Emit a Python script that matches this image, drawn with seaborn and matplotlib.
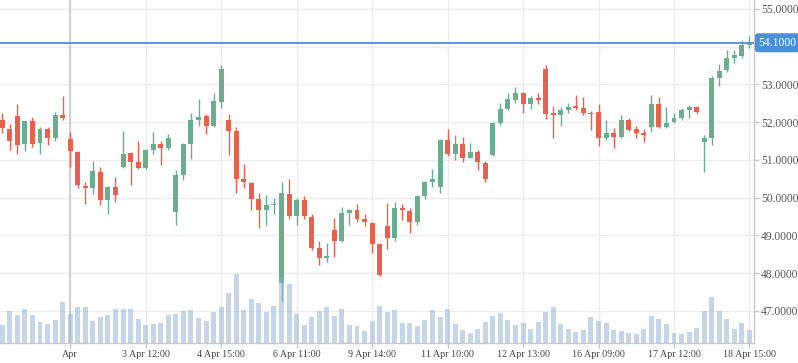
import numpy as np
import pandas as pd
import seaborn as sns
import matplotlib.pyplot as plt

# hourly candles
opens = [52.06, 51.82, 52.16, 51.43, 52.03, 51.45, 51.82, 51.59, 52.19, 51.55,
         51.21, 50.31, 50.26, 50.68, 49.94, 50.28, 50.82, 51.18, 50.94, 50.77,
         51.27, 51.42, 51.30, 49.63, 50.61, 51.43, 52.06, 52.16, 51.90, 52.54,
         52.06, 51.76, 50.49, 50.38, 49.96, 49.68, 49.80, 47.73, 50.09, 49.52,
         49.94, 49.49, 48.66, 48.41, 49.14, 48.85, 49.59, 49.67, 49.43, 49.33,
         48.78, 49.25, 48.94, 49.72, 49.64, 49.36, 50.04, 50.41, 50.29, 51.53,
         51.15, 51.42, 51.06, 51.21, 50.92, 51.14, 51.98, 52.35, 52.59, 52.77,
         52.48, 52.64, 53.41, 52.21, 52.19, 52.32, 52.43, 52.37, 52.24, 52.27,
         51.58, 51.71, 51.60, 52.06, 51.82, 51.71, 51.87, 52.48, 51.87, 52.00,
         52.11, 52.32, 52.40, 51.47, 51.58, 53.17, 53.38, 53.70, 53.75, 54.04]
highs = [52.25, 51.95, 52.48, 52.03, 52.13, 51.87, 51.87, 52.27, 52.69, 51.74,
         51.23, 50.41, 50.98, 50.81, 50.31, 50.55, 51.76, 51.20, 51.50, 51.28,
         51.74, 51.50, 51.68, 50.73, 51.45, 52.24, 52.61, 52.21, 52.77, 53.51,
         52.21, 51.87, 50.89, 50.41, 50.12, 50.07, 49.99, 50.41, 50.49, 49.99,
         50.04, 49.57, 48.85, 48.80, 49.46, 49.75, 49.70, 49.83, 49.57, 49.34,
         48.80, 49.86, 49.88, 49.83, 49.72, 50.06, 50.44, 50.76, 51.55, 51.82,
         51.66, 51.60, 51.45, 51.26, 50.97, 52.00, 52.51, 52.77, 52.93, 52.80,
         52.69, 52.77, 53.51, 52.43, 52.40, 52.51, 52.72, 52.66, 52.29, 52.48,
         52.06, 51.84, 52.19, 52.11, 51.90, 51.82, 52.72, 52.66, 52.40, 52.24,
         52.37, 52.45, 52.43, 51.66, 53.22, 53.54, 53.91, 53.91, 54.17, 54.28]
lows = [51.72, 51.26, 51.15, 51.24, 51.35, 51.16, 51.40, 51.51, 52.06, 50.82,
        50.24, 49.84, 50.10, 49.79, 49.57, 49.87, 50.79, 50.34, 50.75, 50.75,
        51.15, 50.85, 51.25, 49.28, 50.47, 51.03, 51.90, 51.69, 51.88, 52.36,
        51.14, 50.13, 50.24, 49.68, 49.19, 49.28, 49.57, 47.27, 49.42, 49.26,
        49.44, 48.62, 48.22, 48.28, 48.43, 48.82, 49.27, 49.36, 49.25, 48.54,
        47.93, 48.65, 48.85, 49.41, 49.07, 49.26, 49.97, 50.29, 50.13, 51.11,
        51.00, 50.95, 51.04, 50.74, 50.42, 51.11, 51.92, 52.32, 52.51, 52.24,
        52.35, 52.48, 52.08, 51.58, 51.90, 52.24, 52.32, 52.19, 51.79, 51.37,
        51.53, 51.31, 51.58, 51.75, 51.58, 51.47, 51.74, 51.84, 51.85, 51.98,
        52.06, 52.11, 52.21, 50.68, 51.39, 52.96, 53.33, 53.57, 53.70, 53.96]
closes = [51.83, 51.51, 51.38, 52.03, 51.43, 51.82, 51.59, 52.19, 52.12, 51.22,
          50.32, 50.25, 50.70, 49.94, 50.28, 50.08, 51.15, 50.95, 50.77, 51.26,
          51.42, 51.32, 51.58, 50.60, 51.42, 52.06, 52.13, 51.90, 52.56, 53.41,
          51.77, 50.50, 50.40, 49.97, 49.68, 49.80, 49.83, 50.12, 49.52, 49.94,
          49.52, 48.67, 48.41, 48.45, 48.86, 49.59, 49.67, 49.42, 49.34, 48.78,
          47.95, 48.94, 49.72, 49.68, 49.36, 50.04, 50.41, 50.49, 51.53, 51.15,
          51.42, 51.06, 51.21, 50.93, 50.50, 51.98, 52.35, 52.61, 52.77, 52.48,
          52.64, 52.59, 52.21, 52.19, 52.32, 52.40, 52.37, 52.24, 52.21, 51.58,
          51.71, 51.60, 52.06, 51.80, 51.71, 51.66, 52.48, 51.87, 51.98, 52.11,
          52.32, 52.40, 52.27, 51.58, 53.17, 53.35, 53.70, 53.78, 54.04, 54.10]
volume = [177, 317, 277, 337, 277, 207, 187, 227, 407, 287,
          357, 357, 217, 257, 277, 337, 337, 337, 237, 177,
          187, 197, 277, 287, 317, 327, 247, 217, 307, 357,
          497, 687, 327, 437, 397, 307, 367, 657, 587, 287,
          177, 257, 317, 357, 267, 337, 177, 167, 117, 217,
          367, 307, 327, 197, 197, 167, 227, 327, 257, 337,
          187, 127, 97, 137, 207, 267, 297, 227, 177, 197,
          137, 207, 307, 357, 187, 137, 107, 127, 257, 217,
          197, 127, 117, 97, 87, 137, 267, 237, 187, 97,
          87, 107, 147, 317, 457, 317, 237, 137, 197, 127]

tick_pos = [9, 19, 29, 39, 49, 59, 69, 79, 89, 99]
tick_labels = ["Apr", "3 Apr 12:00", "4 Apr 15:00", "6 Apr 11:00", "9 Apr 14:00",
               "11 Apr 10:00", "12 Apr 13:00", "16 Apr 09:00", "17 Apr 12:00",
               "18 Apr 15:00"]
price_ticks = [47, 48, 49, 50, 51, 52, 53, 54, 55]
last_price = 54.10

UP = "#6aad8f"
DOWN = "#e9604f"
GRID = "#ececec"

sns.set_style("white")
plt.rcParams['font.family'] = ['Liberation Serif', 'DejaVu Serif']

df = pd.DataFrame(dict(open=opens, high=highs, low=lows, close=closes, volume=volume))
df['i'] = np.arange(len(df))
colors = np.where(df.close >= df.open, UP, DOWN)

fig = plt.figure(figsize=(7.98, 3.63), dpi=100)
ax = fig.add_axes([0, 20.5 / 363, 754 / 798, 342.5 / 363])

# candles
ax.vlines(df.i, df.low, df.high, colors=colors, lw=1.0, zorder=3)
body_lo = np.minimum(df.open, df.close)
body_h = np.maximum((df.close - df.open).abs(), 0.04)
ax.bar(df.i, body_h, bottom=body_lo, width=0.66, color=colors, lw=0, zorder=3)

# crosshair + last price
ax.axvline(9, color="#c9c9c9", lw=1.2, zorder=2)
ax.axhline(last_price, color="#4a90d9", lw=1.3, zorder=4)
ax.annotate(f"{last_price:.4f}", xy=(1, last_price), xycoords=('axes fraction', 'data'),
            xytext=(3.2, 0), textcoords='offset points', va='center', ha='left',
            color='white', fontsize=8.4,
            bbox=dict(boxstyle='round,pad=0.3,rounding_size=0.25', fc='#4a90d9', ec='none'),
            annotation_clip=False, zorder=10)

# volume pane
ax_vol = ax.twinx()
sns.barplot(x=df.i, y=df.volume, native_scale=True, ax=ax_vol, color="#8eafd2",
            saturation=1, alpha=0.5, width=0.66, errorbar=None, linewidth=0)
ax_vol.set_ylim(0, 3425)
ax_vol.set_yticks([])
ax_vol.set_ylabel("")
ax_vol.set_xlabel("")
for s in ax_vol.spines.values():
    s.set_visible(False)

ax.set_ylim(46.16, 55.233)
ax.set_xlim(-0.3, 99.6)
ax.set_xticks(tick_pos, tick_labels)
ax.set_yticks(price_ticks, [f"{v:.4f}" if v != 54 else "" for v in price_ticks])
ax.yaxis.tick_right()
ax.grid(True, color=GRID, lw=1)
ax.set_axisbelow(True)

for side in ['left', 'top']:
    ax.spines[side].set_visible(False)
for side in ['right', 'bottom']:
    ax.spines[side].set_color("#c8c8c8")
    ax.spines[side].set_linewidth(1)

ax.tick_params(axis='y', right=True, left=False, length=3.5, width=1, color="#c8c8c8",
               pad=1.5, labelsize=8.3, labelcolor="#555555")
ax.tick_params(axis='x', bottom=True, length=3.5, width=1, color="#c8c8c8",
               pad=2, labelsize=7.2, labelcolor="#444444")

fig.savefig("out.png", dpi=100)
